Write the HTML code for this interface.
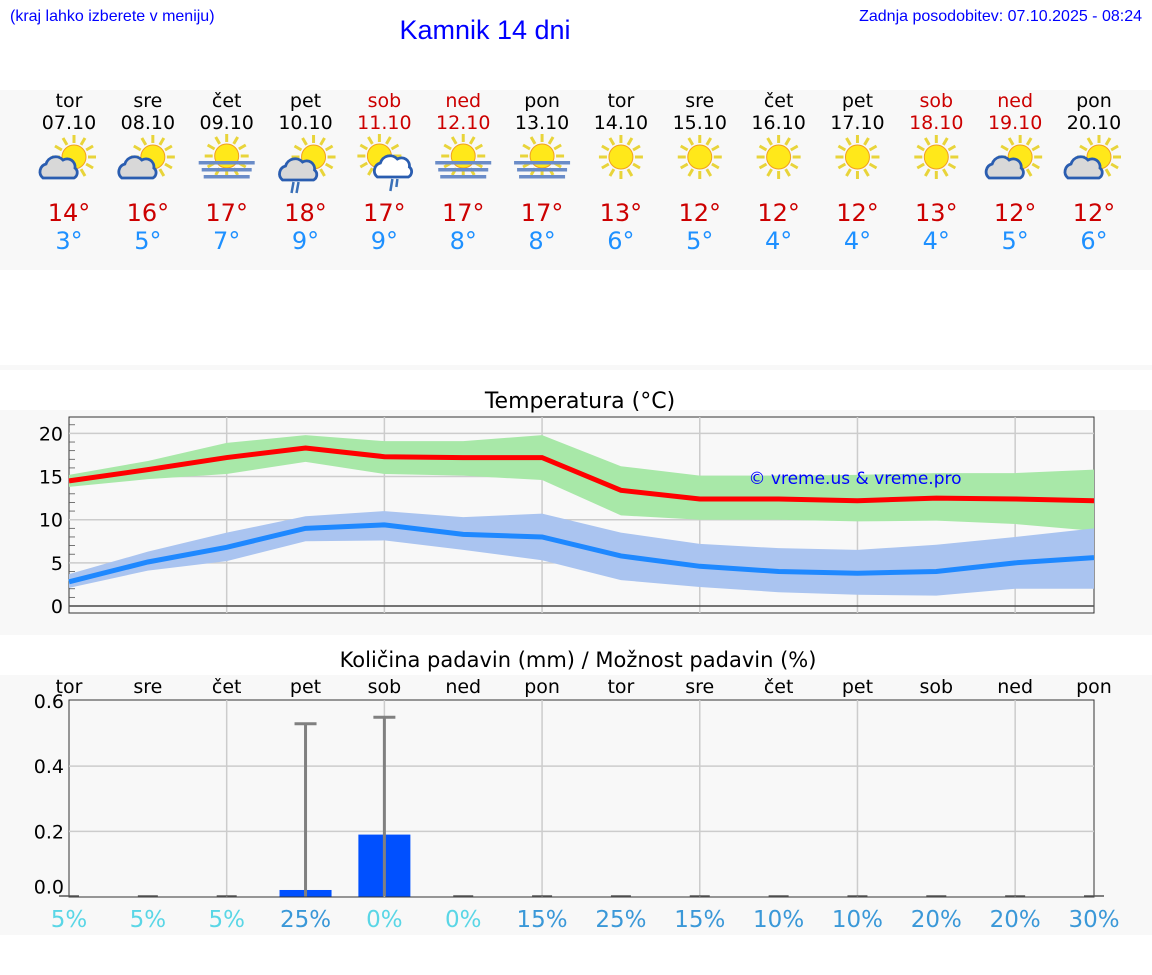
<!DOCTYPE html>
<html><head><meta charset="utf-8">
<style>
body{margin:0;background:#fff;width:1152px;height:975px;overflow:hidden;font-family:"DejaVu Sans","Liberation Sans",sans-serif;}
svg{position:absolute;left:0;top:0}
</style></head>
<body>
<svg width="1152" height="975" id="chart">
<rect x="0" y="90" width="1152" height="180" fill="#f8f8f8"/>
<rect x="0" y="365" width="1152" height="5" fill="#f8f8f8"/>
<rect x="0" y="410" width="1152" height="225" fill="#f8f8f8"/>
<rect x="0" y="675" width="1152" height="260" fill="#f8f8f8"/>
<text x="10" y="21" font-family="Liberation Sans" font-size="16" fill="#0000ff">(kraj lahko izberete v meniju)</text>
<text x="485" y="39" font-family="Liberation Sans" font-size="27" fill="#0000ff" text-anchor="middle">Kamnik 14 dni</text>
<text x="1142" y="21" font-family="Liberation Sans" font-size="16" fill="#0000ff" text-anchor="end">Zadnja posodobitev: 07.10.2025 - 08:24</text>
<g id="days"></g>
<text x="580" y="408" font-size="22" text-anchor="middle" fill="#000">Temperatura (°C)</text>
<rect x="69" y="417" width="1025" height="196" fill="#f8f8f8" stroke="#333" stroke-width="1"/>
<g id="temp"></g>
<text x="855" y="484" font-size="17" fill="#0000ff" text-anchor="middle">© vreme.us &amp; vreme.pro</text>
<text x="578" y="667" font-size="21" text-anchor="middle" fill="#000">Količina padavin (mm) / Možnost padavin (%)</text>
<rect x="69" y="700" width="1025" height="197" fill="#f8f8f8" stroke="#333" stroke-width="1"/>
<g id="precip"></g>
</svg>
<script>
const dayNames=["tor","sre","čet","pet","sob","ned","pon","tor","sre","čet","pet","sob","ned","pon"];
const dates=["07.10","08.10","09.10","10.10","11.10","12.10","13.10","14.10","15.10","16.10","17.10","18.10","19.10","20.10"];
const weekend=[0,0,0,0,1,1,0,0,0,0,0,1,1,0];
const icons=["pc","pc","fog","rain","rain2","fog","fog","sun","sun","sun","sun","sun","pc","pc"];
const maxT=[14,16,17,18,17,17,17,13,12,12,12,13,12,12];
const minT=[3,5,7,9,9,8,8,6,5,4,4,4,5,6];
const maxLine=[14.5,15.8,17.2,18.3,17.3,17.2,17.2,13.4,12.4,12.4,12.2,12.5,12.4,12.2];
const maxHi=[15.2,16.8,18.9,19.8,19.1,19.1,19.8,16.2,15.1,15.1,15.2,15.4,15.4,15.8];
const maxLo=[13.8,14.7,15.3,16.7,15.3,15.1,14.6,10.5,10.0,10.0,9.8,9.9,9.5,8.7];
const minLine=[2.8,5.1,6.8,9.0,9.4,8.3,8.0,5.8,4.6,4.0,3.8,4.0,5.0,5.6];
const minHi=[3.7,6.3,8.5,10.4,11.0,10.3,10.7,8.5,7.2,6.7,6.5,7.1,8.0,9.0];
const minLo=[2.1,4.1,5.2,7.5,7.6,6.5,5.3,3.0,2.2,1.6,1.3,1.2,2.0,2.0];
const tempTicks=[0,5,10,15,20];
const precip=[0,0,0,0.02,0.19,0,0,0,0,0,0,0,0,0];
const precipMax=[0,0,0,0.53,0.55,0,0,0,0,0,0,0,0,0];
const chance=[5,5,5,25,0,0,15,25,15,10,10,20,20,30];
const precipTicks=[0.0,0.2,0.4,0.6];

const NS="http://www.w3.org/2000/svg";
function mk(parent,tag,attrs,text){const e=document.createElementNS(NS,tag);for(const k in attrs)e.setAttribute(k,attrs[k]);if(text!==undefined)e.textContent=text;parent.appendChild(e);return e;}
const X=i=>69+i*(1025/13);
const TY=v=>606-(v)*8.63;
const PY=v=>896.5-v*(195.5/0.6);

const days=document.getElementById('days');
function sun(g,cx,cy,r){for(let a=0;a<12;a++){const t=a*Math.PI/6;mk(g,'line',{x1:cx+Math.cos(t)*(r+2),y1:cy+Math.sin(t)*(r+2),x2:cx+Math.cos(t)*(r+10),y2:cy+Math.sin(t)*(r+10),stroke:'#e8d43a','stroke-width':3});}mk(g,'circle',{cx:cx,cy:cy,r:r,fill:'#ffe81a',stroke:'#f0a020','stroke-width':1});}
function cloud(g,cx,cy,fill){mk(g,'path',{d:`M${cx-19},${cy+10} a8,8 0 0 1 3,-14 a10,10 0 0 1 17,-4 a8,8 0 0 1 12,8 a6,6 0 0 1 -1,10 z`,fill:fill,stroke:'#2a5db0','stroke-width':2.8});}
for(let i=0;i<14;i++){
  const x=X(i);
  const col=weekend[i]?'#cc0000':'#000';
  let t=mk(days,'text',{x:x,y:107,'font-size':19,'text-anchor':'middle',fill:col});t.textContent=dayNames[i];
  
  t=mk(days,'text',{x:x,y:129,'font-size':19,'text-anchor':'middle',fill:col});t.textContent=dates[i];
  
  const g=mk(days,'g',{});
  
  const ic=icons[i];
  if(ic==='pc'){sun(g,x+5,157,12);cloud(g,x-7,168,'#d8d8d8');}
  else if(ic==='rain'){sun(g,x+8,157,12);cloud(g,x-4,170,'#d8d8d8');mk(g,'path',{d:`M${x-12},182 l-2,11 M${x-7},182 l-2,11`,stroke:'#3a70b8','stroke-width':2.5});}
  else if(ic==='rain2'){sun(g,x-5,156,12);cloud(g,x+12,167,'#fff');mk(g,'path',{d:`M${x+8},179 l-2,12 M${x+13},179 l-1,8`,stroke:'#3a70b8','stroke-width':2.5});}
  else if(ic==='fog'){sun(g,x,156,12);for(const [yy,w] of [[161,56],[168,50],[175,46]])mk(g,'rect',{x:x-w/2,y:yy,width:w,height:3.5,fill:'#6a8cc8'});}
  else sun(g,x,157,12);
  t=mk(days,'text',{x:x,y:221,'font-size':24,'text-anchor':'middle',fill:'#cc0000'});t.textContent=maxT[i]+'°';
  
  t=mk(days,'text',{x:x,y:249,'font-size':24,'text-anchor':'middle',fill:'#1e90ff'});t.textContent=minT[i]+'°';
  
}

const tg=document.getElementById('temp');
for(let v=-0;v<=21;v++){const l=mk(tg,'line',{x1:69,x2:75,y1:TY(v),y2:TY(v),stroke:'#555','stroke-width':0.8});}
for(const v of tempTicks){
  const l=mk(tg,'line',{x1:69,x2:1094,y1:TY(v),y2:TY(v),stroke:'#ccc','stroke-width':1.5});
  
  const t=mk(tg,'text',{x:63,y:TY(v)+7,'font-size':19,'text-anchor':'end',fill:'#000'},String(v));
  
}
for(let i=2;i<13;i+=2){const l=mk(tg,'line',{x1:X(i),x2:X(i),y1:417,y2:613,stroke:'#ccc','stroke-width':1.5});}
function band(hi,lo,fill,name){let d='';hi.forEach((v,i)=>d+=(i?'L':'M')+X(i)+','+TY(v));for(let i=lo.length-1;i>=0;i--)d+='L'+X(i)+','+TY(lo[i]);const p=mk(tg,'path',{d:d+'Z',fill:fill});}
function line(arr,col,name){const p=mk(tg,'polyline',{points:arr.map((v,i)=>X(i)+','+TY(v)).join(' '),fill:'none',stroke:col,'stroke-width':5});}
band(maxHi,maxLo,'#a8e8a8','max-temp-range');
band(minHi,minLo,'#aac4f0','min-temp-range');
line(maxLine,'#ff0000','max-temp-line');
line(minLine,'#1e88ff','min-temp-line');
mk(tg,'line',{x1:69,x2:1094,y1:TY(0),y2:TY(0),stroke:'#333','stroke-width':1.2});

const pg=document.getElementById('precip');
for(let i=2;i<13;i+=2){const l=mk(pg,'line',{x1:X(i),x2:X(i),y1:700,y2:897,stroke:'#ccc','stroke-width':1.5});}
for(const v of precipTicks){
  if(v>0&&v<0.6){const l=mk(pg,'line',{x1:69,x2:1094,y1:PY(v),y2:PY(v),stroke:'#ccc','stroke-width':1.5});}
  const t=mk(pg,'text',{x:64,y:PY(v)+(v===0?-3:7),'font-size':19,'text-anchor':'end',fill:'#000'},v.toFixed(1));
  
}
for(let i=0;i<14;i++){
  const x=X(i);
  let t=mk(pg,'text',{x:x,y:693,'font-size':19,'text-anchor':'middle',fill:'#000'},dayNames[i]);
  
  if(precip[i]>0){const b=mk(pg,'rect',{x:x-26,y:PY(precip[i]),width:52,height:PY(0)-PY(precip[i]),fill:'#0050ff'});}
  else{const b=mk(pg,'line',{x1:x-10,x2:x+10,y1:896,y2:896,stroke:'#555','stroke-width':1.5});}
  if(precipMax[i]>0){const e=mk(pg,'path',{d:`M${x},${PY(0)} V${PY(precipMax[i])} M${x-11},${PY(precipMax[i])} H${x+11}`,stroke:'#808080','stroke-width':3,fill:'none'});}
  t=mk(pg,'text',{x:x,y:927,'font-size':23,'text-anchor':'middle',fill:chance[i]>=10?'#3a98d8':'#5ad6e6'},chance[i]+'%');
  
}
</script>
</body></html>
